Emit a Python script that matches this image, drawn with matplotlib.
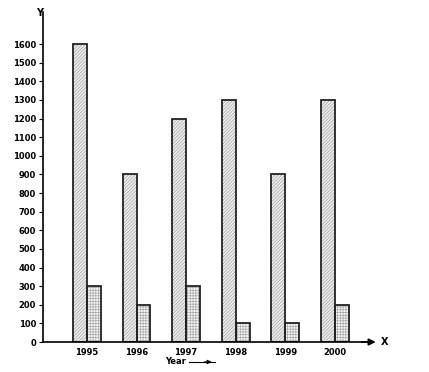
import numpy as np
import matplotlib.pyplot as plt

years = ['1995', '1996', '1997', '1998', '1999', '2000']
series_a = [1600, 900, 1200, 1300, 900, 1300]
series_b = [300, 200, 300, 100, 100, 200]
y_ticks = list(range(0, 1700, 100))

plt.rcParams['hatch.linewidth'] = 0.5

fig = plt.figure(figsize=(4.29, 3.72), dpi=100)
ax = fig.add_axes([0.1002, 0.0806, 0.7668, 0.8871])

x = np.arange(len(years))
w = 0.28
# hatch fill first (grey), then black outline on top
ax.bar(x - w / 2, series_a, w, color='#f0f0f0', edgecolor='#a0a0a0',
       linewidth=0, hatch='/' * 10)
ax.bar(x + w / 2, series_b, w, color='#f6f6f6', edgecolor='#a8a8a8',
       linewidth=0, hatch='+' * 6)
ax.bar(x - w / 2, series_a, w, fill=False, edgecolor='#222222', linewidth=1.3)
ax.bar(x + w / 2, series_b, w, fill=False, edgecolor='#222222', linewidth=1.3)

ax.set_xlim(-0.887, 5.75)
ax.set_ylim(0, 1772)
ax.set_yticks(y_ticks)
ax.set_yticklabels([str(v) for v in y_ticks], fontsize=6, fontweight='bold')
ax.set_xticks(x)
ax.set_xticklabels(years, fontsize=6, fontweight='bold')
ax.tick_params(axis='x', length=0, pad=4)
ax.tick_params(axis='y', length=3, width=0.8, pad=2)

for s in ['top', 'right']:
    ax.spines[s].set_visible(False)
ax.spines['left'].set_linewidth(1.2)
ax.spines['bottom'].set_linewidth(1.2)

# arrow at the end of x axis
ax.annotate('', xy=(1.02, 0), xycoords='axes fraction', xytext=(0.96, 0),
            arrowprops=dict(arrowstyle='-|>', color='black', lw=1.2))
fig.text(0.888, 0.08, 'X', fontsize=7, fontweight='bold', va='center')
fig.text(0.085, 0.965, 'Y', fontsize=7, fontweight='bold', va='center')
fig.text(0.385, 0.027, 'Year', fontsize=6, fontweight='bold', va='center')
fig.add_artist(plt.Line2D([0.44, 0.50], [0.027, 0.027], color='black', lw=0.8))
ax.annotate('', xy=(0.50, 0.027), xycoords='figure fraction', xytext=(0.47, 0.027),
            arrowprops=dict(arrowstyle='-|>', color='black', lw=0.8, mutation_scale=6))

fig.savefig('out.png', dpi=100)
